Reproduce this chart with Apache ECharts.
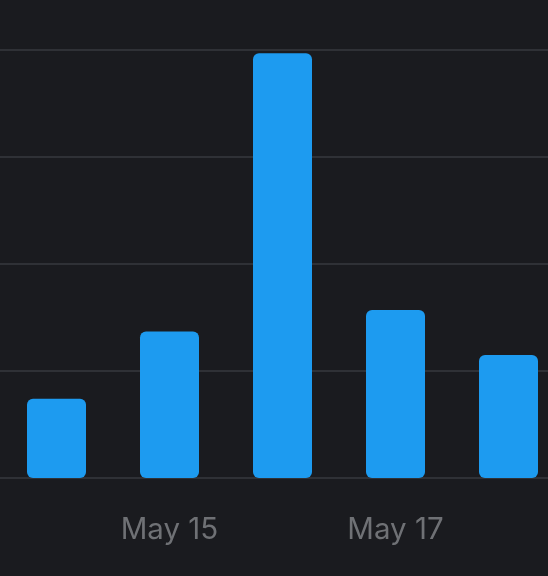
<!DOCTYPE html>
<html>
<head>
<meta charset="utf-8">
<script src="https://cdn.jsdelivr.net/npm/echarts@6/dist/echarts.min.js"></script>
<style>
    html, body { margin: 0; padding: 0; background: #1a1b1f; }
    #chart { width: 548px; height: 576px; }
</style>
</head>
<body>
<div id="chart"></div>
<script>
// 每日数据
const days = ['May 14', 'May 15', 'May 16', 'May 17', 'May 18']
const counts = [0.74, 1.37, 3.97, 1.57, 1.15]
const yTicks = [0, 1, 2, 3, 4]

const myChart = echarts.init(document.getElementById('chart'))
myChart.setOption({
    backgroundColor: '#1a1b1f',
    animation: false,
    grid: {
        left: 0,
        right: -17,
        top: 50,
        bottom: 98,
        outerBoundsMode: 'none',
        containLabel: false,
    },
    xAxis: {
        type: 'category',
        data: days,
        axisTick: { show: false },
        axisLine: { show: false },
        axisLabel: {
            // 只显示隔天的标签
            interval: (i) => i % 2 === 1,
            color: '#6f7175',
            fontSize: 29.5,
            fontFamily: 'Inter',
            margin: 37,
        },
    },
    yAxis: {
        type: 'value',
        min: yTicks[0],
        max: yTicks[yTicks.length - 1],
        interval: 1,
        axisLabel: { show: false },
        axisLine: { show: false },
        axisTick: { show: false },
        splitLine: {
            lineStyle: { color: '#2f3136', width: 2 },
        },
    },
    series: [
        {
            type: 'bar',
            data: counts,
            barWidth: 59,
            itemStyle: {
                color: '#1d9bf0',
                borderRadius: 6,
            },
        },
    ],
})
</script>
</body>
</html>
